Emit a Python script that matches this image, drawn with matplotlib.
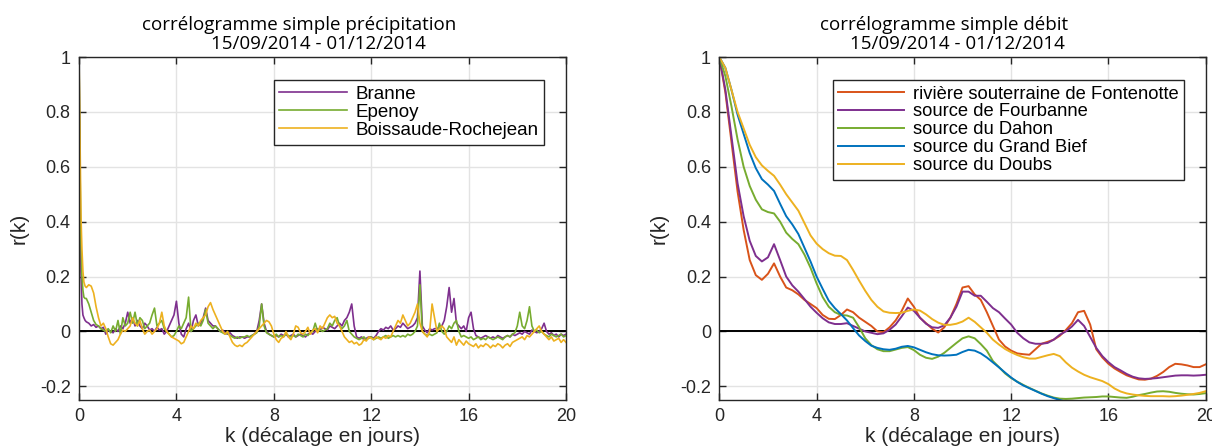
import numpy as np
import matplotlib
matplotlib.use("Agg")
import matplotlib.pyplot as plt

# ---------------- data: precipitation correlograms ----------------
k_head = [0.0, 0.04, 0.08, 0.12, 0.16, 0.2, 0.25]
k_body = list(np.round(np.arange(0.3, 20.001, 0.1), 2))
k_prec = k_head + k_body

branne = [1.0, 0.5, 0.22, 0.1, 0.06, 0.05, 0.04,
    0.035, 0.03, 0.02, 0.025, 0.015, 0.02, 0.01,
    0.015, -0.01, 0.005, 0.0, -0.005, 0.01, 0.0, 0.02, 0.01, 0.03,
    0.07, 0.03, 0.05, 0.02, 0.04, 0.02, 0.01, 0.03, 0.02, 0.005,
    0.01, 0.0, 0.015, 0.005, 0.01, -0.01, 0.0, 0.02, 0.04, 0.06,
    0.11, 0.03, -0.01, -0.02, 0.01, 0.03, 0.0, 0.04, 0.06, 0.02,
    0.03, 0.05, 0.085, 0.04, 0.03, 0.02, 0.02, 0.01, 0.0, 0.005,
    -0.005, -0.01, -0.005, -0.015, -0.02, -0.025, -0.02, -0.02, -0.025, -0.02,
    -0.02, -0.015, -0.01, 0.0, 0.04, 0.1, 0.03, 0.0, -0.01, -0.015,
    -0.02, -0.015, -0.02, -0.01, -0.015, -0.01, -0.02, -0.015, -0.01, -0.02,
    -0.015, -0.01, -0.015, -0.02, -0.01, -0.005, -0.01, 0.0, 0.01, 0.005,
    0.015, 0.01, 0.005, 0.02, 0.015, 0.01, 0.02, 0.03, 0.02, 0.04,
    0.05, 0.07, 0.1, 0.02, -0.02, -0.025, -0.02, -0.03, -0.025, -0.02,
    -0.02, -0.025, -0.015, 0.0, 0.01, 0.005, 0.015, 0.01, 0.02, 0.005,
    0.01, 0.02, 0.015, 0.03, 0.02, 0.01, 0.015, 0.02, 0.03, 0.05,
    0.22, 0.02, 0.005, -0.005, 0.01, 0.005, 0.01, 0.01, 0.015, 0.02,
    0.04, 0.09, 0.16, 0.07, 0.12, 0.03, 0.02, 0.01, 0.02, 0.0,
    0.05, 0.07, 0.01, -0.015, -0.02, -0.025, -0.02, -0.015, -0.02, -0.025,
    -0.02, -0.025, -0.015, -0.02, -0.025, -0.02, -0.015, -0.02, -0.01, -0.015,
    -0.01, -0.005, -0.01, 0.0, -0.005, -0.01, 0.005, 0.0, -0.005, 0.0,
    0.01, 0.03, 0.0, -0.01, -0.005, -0.015, -0.01, -0.02, -0.01, -0.015,
    -0.01]

epenoy = [1.0, 0.6, 0.32, 0.2, 0.15, 0.125, 0.12,
    0.12, 0.1, 0.07, 0.04, 0.025, 0.02, 0.01,
    0.005, 0.0, 0.01, -0.005, 0.02, 0.0, 0.04, -0.01, 0.05, 0.02,
    0.03, 0.07, 0.03, 0.07, 0.02, 0.05, 0.04, 0.01, 0.02, 0.03,
    0.06, 0.085, 0.02, 0.03, 0.04, 0.01, 0.0, -0.01, -0.02, -0.015,
    0.0, 0.02, 0.01, 0.03, 0.05, 0.125, 0.0, 0.01, 0.02, 0.03,
    0.02, 0.04, 0.08, 0.03, 0.02, 0.01, 0.02, 0.01, 0.0, -0.005,
    -0.01, -0.005, -0.015, -0.02, -0.025, -0.02, -0.025, -0.02, -0.02, -0.015,
    -0.02, -0.015, -0.01, -0.005, 0.02, 0.1, 0.02, -0.005, -0.01, -0.015,
    -0.02, -0.01, -0.02, -0.015, -0.02, -0.01, -0.015, -0.02, -0.015, -0.02,
    -0.01, -0.015, -0.02, -0.01, -0.015, -0.005, 0.0, 0.03, 0.0, 0.005,
    0.0, 0.005, 0.01, 0.03, 0.02, 0.04, 0.05, 0.02, 0.01, 0.02,
    0.04, 0.0, -0.01, -0.02, -0.025, -0.03, -0.025, -0.02, -0.03, -0.025,
    -0.02, -0.03, -0.025, -0.02, -0.025, -0.02, -0.015, -0.025, -0.02, -0.015,
    -0.02, -0.015, -0.02, -0.015, -0.02, -0.01, -0.015, -0.01, 0.0, 0.02,
    0.17, 0.0, -0.01, -0.015, -0.01, -0.015, -0.01, -0.005, 0.03, 0.0,
    -0.01, 0.0, 0.02, 0.01, 0.03, 0.04, 0.0, -0.02, -0.015, -0.02,
    -0.025, -0.02, -0.03, -0.025, -0.02, -0.03, -0.025, -0.03, -0.02, -0.025,
    -0.03, -0.025, -0.02, -0.025, -0.03, -0.02, -0.015, -0.02, -0.01, -0.005,
    0.02, 0.07, 0.02, 0.01, 0.04, 0.09, 0.02, 0.0, 0.005, -0.005,
    0.0, -0.01, -0.015, -0.02, -0.01, -0.015, -0.02, -0.015, -0.01, -0.02,
    -0.015]

boissaude = [1.0, 0.72, 0.42, 0.3, 0.22, 0.18, 0.165,
    0.16, 0.17, 0.165, 0.14, 0.09, 0.05, 0.02,
    0.03, 0.01, -0.02, -0.045, -0.05, -0.04, -0.03, -0.01, 0.005, 0.0,
    0.01, 0.02, 0.05, 0.03, 0.02, 0.04, 0.01, -0.01, 0.0, 0.005,
    -0.01, 0.0, 0.01, 0.03, 0.07, 0.02, 0.0, -0.01, -0.02, -0.025,
    -0.03, -0.035, -0.045, -0.04, -0.02, 0.0, 0.02, 0.01, 0.03, 0.02,
    0.04, 0.05, 0.06, 0.09, 0.105, 0.08, 0.06, 0.04, 0.02, 0.0,
    -0.01, 0.0, -0.02, -0.04, -0.05, -0.055, -0.05, -0.055, -0.045, -0.04,
    -0.03, -0.02, -0.01, 0.0, 0.01, 0.02, 0.03, 0.04, 0.035, 0.02,
    -0.01, -0.03, -0.04, -0.025, -0.02, 0.0, -0.02, -0.03, -0.01, 0.02,
    0.015, -0.005, -0.01, 0.0, 0.015, -0.01, 0.005, 0.01, -0.005, 0.02,
    0.01, 0.03, 0.05, 0.06, 0.05, 0.055, 0.03, 0.02, 0.0, -0.02,
    -0.03, -0.04, -0.035, -0.045, -0.04, -0.05, -0.045, -0.03, -0.035, -0.02,
    -0.025, -0.03, -0.02, -0.025, -0.03, -0.02, -0.025, -0.015, -0.02, 0.0,
    0.02, 0.04, 0.03, 0.06, 0.04, 0.02, 0.03, 0.05, 0.07, 0.1,
    0.03, 0.0, -0.01, -0.02, 0.0, 0.1, 0.05, 0.0, 0.01, 0.02,
    0.01, -0.02, -0.03, -0.04, -0.02, -0.05, -0.03, -0.04, -0.05, -0.035,
    -0.045, -0.05, -0.055, -0.045, -0.06, -0.05, -0.055, -0.045, -0.05, -0.06,
    -0.05, -0.055, -0.045, -0.05, -0.06, -0.05, -0.045, -0.055, -0.04, -0.035,
    -0.03, -0.025, -0.02, -0.03, -0.015, -0.02, -0.01, 0.0, 0.01, 0.02,
    0.0, -0.01, -0.02, -0.03, -0.02, -0.035, -0.03, -0.025, -0.04, -0.03,
    -0.04]

# ---------------- data: discharge correlograms ----------------
k_debit = list(np.round(np.arange(0.0, 20.001, 0.25), 2))

fontenotte = [1.0, 0.87, 0.69, 0.51, 0.37, 0.26, 0.205, 0.188, 0.21, 0.248,
    0.2, 0.16, 0.15, 0.135, 0.115, 0.1, 0.085, 0.06, 0.046, 0.045,
    0.06, 0.08, 0.07, 0.05, 0.035, 0.02, 0.0, -0.003, 0.015, 0.04,
    0.075, 0.12, 0.09, 0.05, 0.03, 0.01, -0.004, 0.015, 0.05, 0.1,
    0.16, 0.165, 0.135, 0.115, 0.07, 0.02, -0.03, -0.055, -0.07, -0.08,
    -0.083, -0.085, -0.065, -0.045, -0.038, -0.03, -0.016, 0.005, 0.03, 0.07,
    0.075, 0.025, -0.065, -0.095, -0.118, -0.135, -0.148, -0.16, -0.168, -0.175,
    -0.176, -0.172, -0.162, -0.148, -0.13, -0.118, -0.12, -0.124, -0.13, -0.13,
    -0.12]

fourbanne = [1.0, 0.88, 0.71, 0.54, 0.42, 0.33, 0.275, 0.255, 0.27, 0.318,
    0.26, 0.2, 0.168, 0.145, 0.118, 0.09, 0.068, 0.048, 0.033, 0.027,
    0.027, 0.03, 0.02, 0.01, 0.0, -0.005, -0.01, -0.007, 0.006, 0.025,
    0.055, 0.087, 0.075, 0.05, 0.028, 0.015, 0.013, 0.022, 0.05, 0.09,
    0.145, 0.145, 0.13, 0.13, 0.108, 0.085, 0.07, 0.047, 0.025, -0.005,
    -0.025, -0.04, -0.045, -0.045, -0.042, -0.03, -0.012, 0.0, 0.018, 0.042,
    0.02, -0.02, -0.06, -0.09, -0.112, -0.13, -0.142, -0.155, -0.165, -0.171,
    -0.173, -0.172, -0.17, -0.167, -0.164, -0.161, -0.16, -0.16, -0.161, -0.16,
    -0.158]

dahon = [1.0, 0.93, 0.82, 0.7, 0.6, 0.53, 0.48, 0.445, 0.435, 0.43,
    0.4, 0.36, 0.337, 0.318, 0.28, 0.232, 0.175, 0.125, 0.09, 0.07,
    0.06, 0.058, 0.05, 0.015, -0.025, -0.05, -0.065, -0.072, -0.072, -0.066,
    -0.06, -0.057, -0.068, -0.085, -0.096, -0.1, -0.092, -0.078, -0.06, -0.042,
    -0.025, -0.018, -0.025, -0.046, -0.07, -0.108, -0.13, -0.153, -0.17, -0.183,
    -0.195, -0.206, -0.216, -0.226, -0.234, -0.241, -0.245, -0.246, -0.245, -0.243,
    -0.241, -0.24, -0.239, -0.237, -0.237, -0.239, -0.241, -0.242, -0.238, -0.232,
    -0.228, -0.223, -0.219, -0.218, -0.22, -0.224, -0.227, -0.229, -0.23, -0.228,
    -0.225]

grand_bief = [1.0, 0.96, 0.88, 0.79, 0.72, 0.65, 0.595, 0.555, 0.535, 0.512,
    0.465, 0.42, 0.39, 0.355, 0.305, 0.255, 0.2, 0.155, 0.112, 0.085,
    0.063, 0.04, 0.012, -0.015, -0.035, -0.052, -0.06, -0.065, -0.067, -0.063,
    -0.056, -0.053, -0.058, -0.067, -0.076, -0.083, -0.087, -0.088, -0.087, -0.085,
    -0.075, -0.067, -0.07, -0.08, -0.095, -0.113, -0.131, -0.15, -0.168, -0.184,
    -0.197, -0.207, -0.217, -0.227, -0.236, -0.243, -0.25, -0.256, -0.262, -0.266,
    -0.27, -0.273, -0.276, -0.278, -0.279, -0.28, -0.28, -0.279, -0.278, -0.277,
    -0.276, -0.275, -0.274, -0.273, -0.273, -0.272, -0.272, -0.271, -0.27, -0.27,
    -0.27]

doubs = [1.0, 0.96, 0.88, 0.8, 0.74, 0.68, 0.635, 0.605, 0.585, 0.567,
    0.535, 0.5, 0.47, 0.44, 0.395, 0.35, 0.32, 0.3, 0.285, 0.276,
    0.275, 0.26, 0.224, 0.185, 0.148, 0.115, 0.09, 0.073, 0.068, 0.067,
    0.068, 0.075, 0.08, 0.076, 0.062, 0.045, 0.032, 0.024, 0.024, 0.028,
    0.036, 0.05, 0.035, 0.015, -0.005, -0.03, -0.048, -0.064, -0.076, -0.086,
    -0.094, -0.099, -0.099, -0.093, -0.087, -0.082, -0.09, -0.113, -0.132, -0.146,
    -0.158, -0.167, -0.174, -0.181, -0.192, -0.208, -0.219, -0.226, -0.23, -0.233,
    -0.235, -0.236, -0.236, -0.236, -0.237, -0.236, -0.234, -0.231, -0.228, -0.224,
    -0.218]

prec_labels = ["Branne", "Epenoy", "Boissaude-Rochejean"]
debit_labels = ["rivière souterraine de Fontenotte", "source de Fourbanne",
                "source du Dahon", "source du Grand Bief", "source du Doubs"]
xticks = [0, 4, 8, 12, 16, 20]
yticks = [-0.2, 0, 0.2, 0.4, 0.6, 0.8, 1]
ytick_labels = ["-0.2", "0", "0.2", "0.4", "0.6", "0.8", "1"]
xtick_labels = ["0", "4", "8", "12", "16", "20"]

# ---------------- style ----------------
C_ORANGE = "#D95319"
C_PURPLE = "#7E2F8E"
C_GREEN = "#77AC30"
C_BLUE = "#0072BD"
C_YELLOW = "#EDB120"
AX_COL = "#262626"

plt.rcParams["font.family"] = ["Liberation Sans", "DejaVu Sans"]

fig = plt.figure(figsize=(12.12, 4.48), dpi=100)
ax1 = fig.add_axes([0.0652, 0.1071, 0.4018, 0.7656])
ax2 = fig.add_axes([0.5935, 0.1071, 0.4013, 0.7656])


def style(ax, title1, title2, t1x, t2x):
    ax.set_xlim(0, 20)
    ax.set_ylim(-0.25, 1)
    ax.set_xticks(xticks)
    ax.set_xticklabels(xtick_labels)
    ax.set_yticks(yticks)
    ax.set_yticklabels(ytick_labels)
    ax.grid(True, color="#e3e3e3", linewidth=1.0)
    ax.set_axisbelow(True)
    ax.tick_params(direction="in", length=5, width=1, colors=AX_COL,
                   labelsize=13, top=True, right=True, pad=6,
                   labelcolor=AX_COL)
    for s in ax.spines.values():
        s.set_color(AX_COL)
        s.set_linewidth(1.0)
    ax.axhline(0, color="black", linewidth=1.4, zorder=1.5)
    ax.set_xlabel("k (décalage en jours)", fontsize=15, color=AX_COL,
                  labelpad=1)
    ax.set_ylabel("r(k)", fontsize=15, color=AX_COL, labelpad=8)
    ax.text(t1x, 1.078, title1, transform=ax.transAxes, ha="center",
            va="baseline", fontsize=13.5, family="Open Sans", color="black")
    ax.text(t2x, 1.024, title2, transform=ax.transAxes, ha="center",
            va="baseline", fontsize=13.5, family="Open Sans", color="black")


style(ax1, "corrélogramme simple précipitation", "15/09/2014 - 01/12/2014",
      0.452, 0.491)
style(ax2, "corrélogramme simple débit", "15/09/2014 - 01/12/2014",
      0.462, 0.489)

for vals, col, lab in zip([branne, epenoy, boissaude],
                          [C_PURPLE, C_GREEN, C_YELLOW], prec_labels):
    ax1.plot(k_prec, vals, color=col, linewidth=1.2, label=lab, zorder=2)

for vals, col, lab in zip([fontenotte, fourbanne, dahon, grand_bief, doubs],
                          [C_ORANGE, C_PURPLE, C_GREEN, C_BLUE, C_YELLOW],
                          debit_labels):
    ax2.plot(k_debit, vals, color=col, linewidth=1.4, label=lab, zorder=2)

for ax, fs in ((ax1, 13.5), (ax2, 13.2)):
    leg = ax.legend(loc="upper right", bbox_to_anchor=(0.955, 0.933),
                    borderaxespad=0, fontsize=fs, handlelength=3.6,
                    handletextpad=0.45, labelspacing=0.05, borderpad=0.3,
                    fancybox=False, framealpha=1)
    leg.get_frame().set_edgecolor(AX_COL)
    leg.get_frame().set_linewidth(1.0)
    for t in leg.get_texts():
        t.set_color("black")

fig.savefig("out.png", dpi=100)
